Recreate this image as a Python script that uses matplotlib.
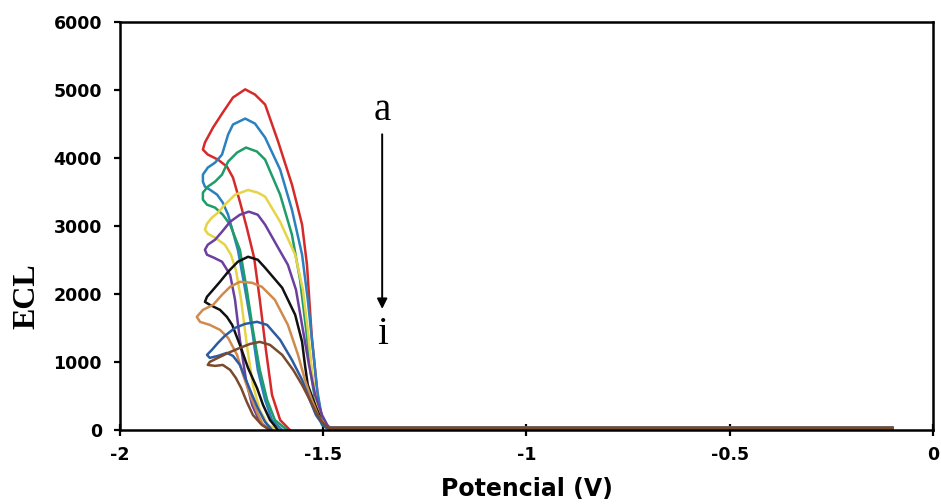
import matplotlib
matplotlib.use("Agg")
import matplotlib.pyplot as plt

# ECL transients a-i (potential in V, intensity in a.u.)
A_X = [-0.10, -1.488, -1.501, -1.513, -1.528, -1.540, -1.552, -1.565, -1.577, -1.611, -1.643, -1.668, -1.692,
       -1.722, -1.747, -1.771, -1.791, -1.796, -1.784, -1.759, -1.737, -1.722, -1.705, -1.688, -1.670,
       -1.656, -1.641, -1.626, -1.606, -1.582]
A_Y = [30, 30, 118, 471, 1355, 2430, 3020, 3330, 3610, 4242, 4787, 4934, 5010,
       4890, 4670, 4449, 4228, 4124, 4051, 3977, 3874, 3712, 3358, 2975, 2534,
       1915, 1178, 516, 147, 0]

B_X = [-0.10, -1.488, -1.503, -1.515, -1.525, -1.538, -1.552, -1.577, -1.606, -1.643, -1.668, -1.692,
       -1.722, -1.734, -1.749, -1.766, -1.784, -1.796, -1.796, -1.791, -1.779, -1.761, -1.747, -1.734,
       -1.710, -1.692, -1.675, -1.661, -1.643, -1.626, -1.601]
B_Y = [30, 30, 177, 589, 1178, 1915, 2578, 3240, 3830, 4301, 4507, 4580,
       4493, 4345, 4051, 3933, 3859, 3756, 3653, 3579, 3535, 3461, 3343, 3166,
       2651, 2062, 1473, 884, 442, 147, 0]

C_X = [-0.10, -1.490, -1.503, -1.518, -1.530, -1.542, -1.557, -1.577, -1.606, -1.643, -1.663, -1.690,
       -1.712, -1.734, -1.749, -1.766, -1.784, -1.796, -1.796, -1.786, -1.766, -1.747, -1.729, -1.705,
       -1.688, -1.673, -1.656, -1.638, -1.619, -1.589]
C_Y = [30, 30, 74, 368, 810, 1473, 2209, 2872, 3461, 3977, 4095, 4154,
       4080, 3948, 3756, 3653, 3579, 3491, 3388, 3314, 3270, 3166, 3020, 2651,
       2062, 1473, 884, 442, 147, 0]

D_X = [-0.10, -1.491, -1.506, -1.518, -1.528, -1.538, -1.550, -1.569, -1.606, -1.643, -1.661, -1.685,
       -1.717, -1.742, -1.759, -1.774, -1.786, -1.791, -1.784, -1.766, -1.742, -1.727, -1.715, -1.702,
       -1.688, -1.673, -1.656, -1.636, -1.611]
D_Y = [30, 30, 147, 442, 884, 1473, 2062, 2578, 3063, 3432, 3491, 3530,
       3460, 3314, 3196, 3122, 3034, 2946, 2887, 2828, 2725, 2578, 2357, 1915,
       1252, 663, 295, 74, 0]

E_X = [-0.10, -1.483, -1.490, -1.503, -1.520, -1.535, -1.550, -1.567, -1.587, -1.611, -1.643, -1.661, -1.683,
       -1.705, -1.729, -1.749, -1.766, -1.784, -1.791, -1.786, -1.769, -1.749, -1.729, -1.717, -1.705,
       -1.690, -1.675, -1.656, -1.631]
E_Y = [30, 30, 74, 221, 516, 957, 1473, 2062, 2430, 2681, 3020, 3166, 3211,
       3166, 3063, 2916, 2799, 2725, 2651, 2578, 2534, 2475, 2283, 1915, 1326,
       737, 368, 118, 0]

F_X = [-0.10, -1.488, -1.503, -1.520, -1.538, -1.545, -1.552, -1.569, -1.601, -1.643, -1.661, -1.685,
       -1.710, -1.734, -1.754, -1.771, -1.786, -1.791, -1.779, -1.754, -1.737, -1.724, -1.705, -1.685,
       -1.663, -1.648, -1.631, -1.611]
F_Y = [30, 30, 118, 368, 663, 957, 1296, 1694, 2092, 2386, 2504, 2548,
       2475, 2327, 2180, 2062, 1959, 1885, 1841, 1767, 1664, 1546, 1252, 913,
       619, 368, 147, 0]

G_X = [-0.10, -1.488, -1.496, -1.513, -1.528, -1.545, -1.562, -1.587, -1.619, -1.651, -1.675,
       -1.705, -1.729, -1.749, -1.771, -1.796, -1.811, -1.803, -1.779, -1.754, -1.734, -1.712, -1.697,
       -1.680, -1.663, -1.648, -1.631]
G_Y = [30, 30, 74, 221, 442, 737, 1105, 1546, 1915, 2106, 2165,
       2180, 2106, 1988, 1841, 1767, 1664, 1590, 1546, 1473, 1355, 1105, 810,
       516, 265, 74, 0]

H_X = [-0.10, -1.492, -1.501, -1.518, -1.533, -1.552, -1.577, -1.606, -1.638, -1.663,
       -1.692, -1.717, -1.742, -1.759, -1.774, -1.786, -1.779, -1.759, -1.737, -1.722, -1.705, -1.692,
       -1.675, -1.661, -1.643, -1.626]
H_Y = [30, 30, 74, 221, 442, 737, 1031, 1326, 1546, 1591,
       1561, 1502, 1385, 1281, 1178, 1105, 1061, 1090, 1134, 1090, 957, 766,
       516, 324, 118, 0]

I_X = [-0.10, -1.488, -1.503, -1.518, -1.533, -1.552, -1.574, -1.601, -1.631, -1.656,
       -1.680, -1.705, -1.734, -1.759, -1.779, -1.784, -1.766, -1.747, -1.729, -1.715, -1.702, -1.688,
       -1.673, -1.651, -1.631]
I_Y = [30, 30, 118, 265, 442, 663, 884, 1105, 1252, 1296,
       1266, 1208, 1134, 1061, 1002, 957, 943, 957, 884, 766, 619, 412,
       221, 74, 0]

CURVES = [
    (A_X, A_Y, "#d62a2a"),
    (B_X, B_Y, "#2b80bf"),
    (C_X, C_Y, "#1f9c6a"),
    (D_X, D_Y, "#e6d447"),
    (E_X, E_Y, "#6b3fa0"),
    (F_X, F_Y, "#111111"),
    (G_X, G_Y, "#cf8a4c"),
    (H_X, H_Y, "#2d5ba2"),
    (I_X, I_Y, "#7a4a2c"),
]

X_TICKS = [-2, -1.5, -1, -0.5, 0]
X_TICK_LABELS = ["-2", "-1.5", "-1", "-0.5", "0"]
Y_TICKS = [0, 1000, 2000, 3000, 4000, 5000, 6000]

fig = plt.figure(figsize=(9.41, 5.04), dpi=100)
ax = fig.add_axes([0.1275, 0.1468, 0.864, 0.8095])

for xs, ys, c in CURVES:
    ax.plot(xs, ys, color=c, lw=1.8, solid_joinstyle="round")

ax.set_xlim(-2, 0)
ax.set_ylim(0, 6000)
ax.set_xticks(X_TICKS)
ax.set_xticklabels(X_TICK_LABELS)
ax.set_yticks(Y_TICKS)

for lab in ax.get_xticklabels() + ax.get_yticklabels():
    lab.set_fontfamily("DejaVu Sans")
    lab.set_fontweight("bold")
    lab.set_fontsize(12.5)

ax.tick_params(axis="x", direction="inout", length=9, width=1.6, pad=7)
ax.tick_params(axis="y", direction="out", length=4, width=1.6, pad=9)
for s in ax.spines.values():
    s.set_linewidth(1.8)
    s.set_color("black")

ax.set_xlabel("Potencial (V)", fontfamily="DejaVu Sans", fontweight="bold", fontsize=17)
ax.xaxis.set_label_coords(0.50, -0.115)
ax.set_ylabel("ECL", fontfamily="Liberation Serif", fontweight="bold", fontsize=23)
ax.yaxis.set_label_coords(-0.097, 0.328)

# arrow running from trace a down to trace i
ax.annotate("", xy=(-1.355, 1740), xytext=(-1.355, 4390),
            arrowprops=dict(arrowstyle="-|>", color="black", lw=1.4, mutation_scale=15))
ax.text(-1.355, 4700, "a", ha="center", va="center", fontfamily="Liberation Serif", fontsize=28)
ax.text(-1.355, 1400, "i", ha="center", va="center", fontfamily="Liberation Serif", fontsize=28)

fig.savefig("out.png", dpi=100)
